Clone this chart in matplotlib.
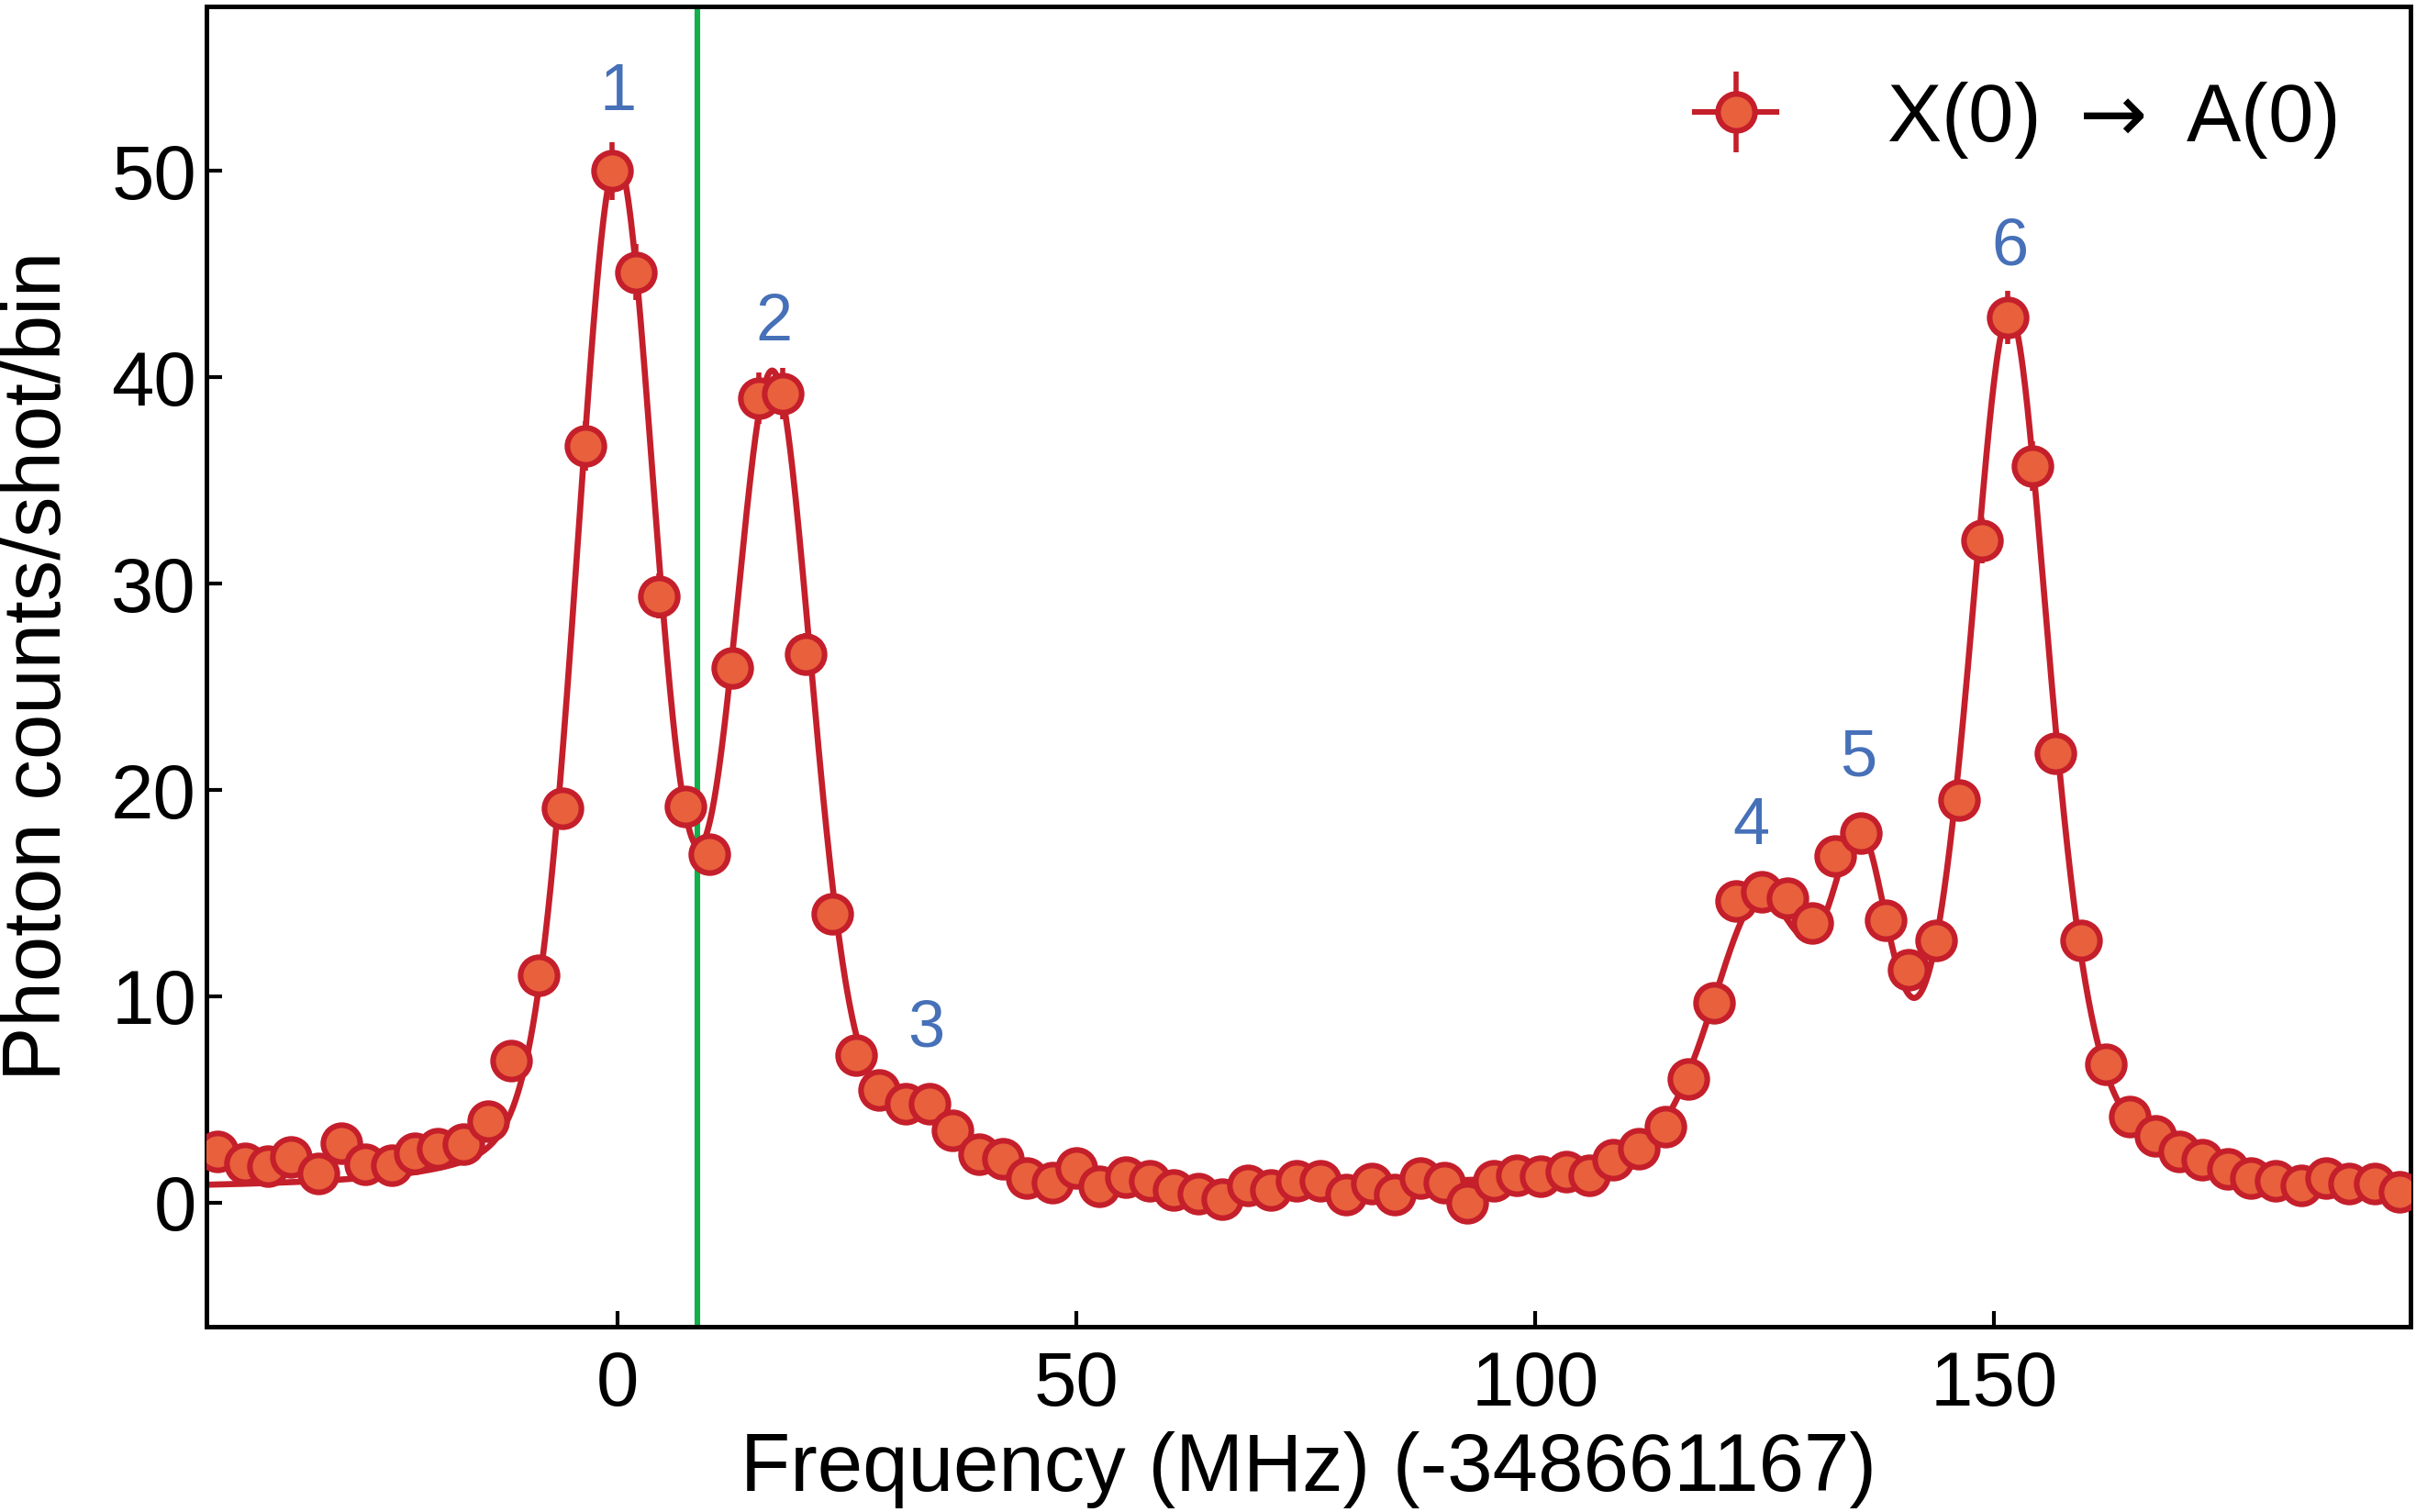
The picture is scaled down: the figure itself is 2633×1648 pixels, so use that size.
import numpy as np
import matplotlib
matplotlib.use("Agg")
import matplotlib.pyplot as plt
from matplotlib.lines import Line2D
from matplotlib.legend_handler import HandlerTuple

plt.rcParams['font.family'] = ['Liberation Sans', 'DejaVu Sans']

# measured spectrum, frequency in MHz (offset -348661167)
freq = [-43.6, -40.6, -38.1, -35.6, -32.6, -30.1, -27.5, -24.6, -22.1, -19.6,
        -16.8, -14.1, -11.6, -8.6, -6.0, -3.5, -0.6, 2.0, 4.5, 7.4,
        10.0, 12.5, 15.4, 18.0, 20.5, 23.4, 26.0, 28.5, 31.4, 34.0,
        36.5, 39.4, 42.0, 44.6, 47.4, 50.0, 52.5, 55.4, 58.0, 60.6,
        63.3, 65.9, 68.7, 71.2, 74.0, 76.6, 79.4, 82.2, 84.7, 87.5,
        90.1, 92.6, 95.5, 98.0, 100.6, 103.4, 105.9, 108.5, 111.3, 114.2,
        116.7, 119.5, 121.9, 124.7, 127.5, 130.2, 132.7, 135.5, 138.2, 140.7,
        143.7, 146.2, 148.7, 151.5, 154.2, 156.7, 159.5, 162.2, 164.8, 167.6,
        170.2, 172.7, 175.5, 178.0, 180.7, 183.5, 186.2, 188.7, 191.5, 194.2]
counts = [2.5, 1.9, 1.75, 2.2, 1.4, 2.9, 1.85, 1.8, 2.4, 2.6,
          2.85, 3.95, 6.9, 11.0, 19.1, 36.7, 50.0, 45.1, 29.4, 19.2,
          16.9, 25.9, 39.0, 39.2, 26.6, 14.0, 7.15, 5.45, 4.8, 4.8,
          3.5, 2.35, 2.1, 1.2, 0.97, 1.68, 0.8, 1.23, 1.05, 0.6,
          0.45, 0.15, 0.82, 0.6, 1.05, 1.05, 0.38, 0.9, 0.38, 1.2,
          0.97, 0.0, 1.05, 1.34, 1.27, 1.5, 1.34, 2.09, 2.6, 3.7,
          6.0, 9.7, 14.6, 15.05, 14.76, 13.55, 16.8, 17.9, 13.7, 11.3,
          12.7, 19.5, 32.1, 42.9, 35.7, 21.8, 12.7, 6.7, 4.18, 3.24,
          2.46, 2.09, 1.64, 1.2, 1.05, 0.82, 1.2, 0.9, 0.9, 0.52]
counts_err = [0.3, 0.3, 0.3, 0.3, 0.3, 0.3, 0.3, 0.3, 0.3, 0.3,
              0.3, 0.4, 0.5, 0.7, 0.9, 1.2, 1.4, 1.35, 1.1, 0.9,
              0.8, 1.0, 1.25, 1.25, 1.0, 0.75, 0.5, 0.45, 0.45, 0.45,
              0.4, 0.3, 0.3, 0.2, 0.2, 0.25, 0.2, 0.2, 0.2, 0.15,
              0.15, 0.1, 0.2, 0.15, 0.2, 0.2, 0.15, 0.2, 0.15, 0.2,
              0.2, 0.1, 0.2, 0.25, 0.25, 0.25, 0.25, 0.3, 0.3, 0.4,
              0.5, 0.6, 0.75, 0.8, 0.75, 0.75, 0.8, 0.85, 0.75, 0.65,
              0.7, 0.9, 1.1, 1.3, 1.2, 0.9, 0.7, 0.5, 0.4, 0.35,
              0.3, 0.3, 0.25, 0.2, 0.2, 0.2, 0.2, 0.2, 0.2, 0.15]

# fitted line shape: pseudo-Voigt peaks on a flat background
peak_center = [-0.1, 16.9, 32.0, 124.5, 135.5, 151.7]
peak_amp = [49.0, 38.5, 2.6, 13.0, 13.0, 42.0]
peak_fwhm = [10.5, 10.5, 10.0, 13.0, 7.5, 10.5]
peak_eta = [0.25, 0.25, 0.3, 0.4, 0.3, 0.5]
fit_background = 0.6

peak_labels = ['1', '2', '3', '4', '5', '6']
label_x = [0.0, 17.0, 33.6, 123.5, 135.2, 151.7]
label_y = [53.8, 42.6, 8.4, 18.2, 21.5, 46.3]

marker_freq = 8.7

red = '#c41f2b'
face = '#e8603c'
blue = '#4670b8'


def pseudo_voigt(x, c, a, w, eta):
    s = w / 2.3548
    g = np.exp(-(x - c) ** 2 / (2 * s ** 2))
    l = 1.0 / (1.0 + ((x - c) / (w / 2)) ** 2)
    return a * (eta * l + (1 - eta) * g)


x_fit = np.linspace(-46, 197, 3000)
y_fit = np.full_like(x_fit, fit_background)
for c, a, w, eta in zip(peak_center, peak_amp, peak_fwhm, peak_eta):
    y_fit += pseudo_voigt(x_fit, c, a, w, eta)

fig = plt.figure(figsize=(13.165, 8.24), dpi=200)
ax = fig.add_axes([0.0855, 0.1228, 0.9122, 0.8732])

ax.axvline(marker_freq, color='#12b04a', lw=2.2, zorder=1)
ax.plot(x_fit, y_fit, color=red, lw=2.4, zorder=2)
ax.errorbar(freq, counts, yerr=counts_err, fmt='o', ms=14.5, mfc=face, mec=red,
            mew=2.2, ecolor=red, elinewidth=2.0, color=red, zorder=3)

for lab, lx, ly in zip(peak_labels, label_x, label_y):
    ax.text(lx, ly, lab, color=blue, fontsize=26, ha='center', va='center')

ax.set_xlim(-44.8, 195.4)
ax.set_ylim(-6.0, 58.0)
ax.set_xticks([0, 50, 100, 150])
ax.set_yticks([0, 10, 20, 30, 40, 50])
ax.tick_params(direction='in', length=6, width=1.5, labelsize=30)
ax.tick_params(axis='x', pad=9)
ax.tick_params(axis='y', pad=4)
for sp in ax.spines.values():
    sp.set_linewidth(1.8)

ax.set_xlabel('Frequency (MHz) (-348661167)', fontsize=32, labelpad=4)
ax.set_ylabel('Photon counts/shot/bin', fontsize=32, labelpad=13)

# legend handle: marker with horizontal line and vertical error bar
bar_handle = Line2D([], [], color=red, marker='|', ms=32, mew=2.0, linestyle='none')
pt_handle = Line2D([], [], color=red, lw=2.2, marker='o', ms=14.5, mfc=face,
                   mec=red, mew=2.2)
ax.legend([(bar_handle, pt_handle)], ['X(0) $\\rightarrow$ A(0)'],
          handler_map={tuple: HandlerTuple(ndivide=1)},
          loc='upper right', frameon=False, fontsize=32,
          handlelength=1.0, handletextpad=1.35, borderaxespad=0.5)

fig.savefig('out.png', dpi=200)
